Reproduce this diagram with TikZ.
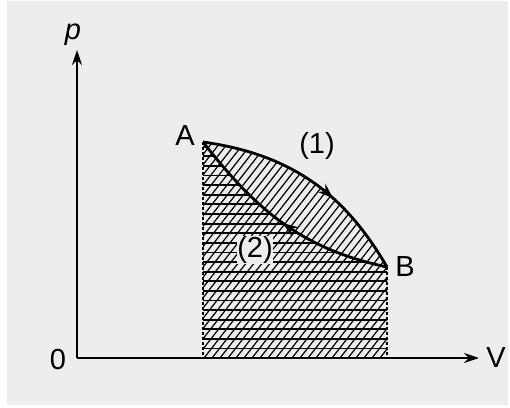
\documentclass[tikz,border=0pt]{standalone}
\usepackage{fontspec}
\setmainfont{Liberation Sans}
\usetikzlibrary{arrows.meta,decorations.markings}
\definecolor{paper}{HTML}{EDEDED}
\begin{document}
\begin{tikzpicture}[x=1pt,y=1pt,>=Stealth,
lbl/.style={font=\fontsize{29}{29}\selectfont,inner sep=1pt},
axis/.style={line width=2.4pt,-{Stealth[length=15pt,width=10pt]}},
proc/.style={line width=2.8pt},
hatch/.style={line width=1.2pt},
rule/.style={line width=1.8pt},
edge/.style={line width=2pt,dash pattern=on 3pt off 2pt},
midarrow/.style={postaction={decorate},decoration={markings,mark=at position #1 with {\arrow{Stealth[length=15pt,width=11pt]}}}}]
\useasboundingbox (0,0) rectangle (510,407);
\fill[white] (0,0) rectangle (510,407);
\fill[paper] (7,2) rectangle (508,406);
\coordinate (O) at (77,49);
\coordinate (xend) at (479,49);
\coordinate (yend) at (77,357);
\coordinate (A) at (203,265);
\coordinate (B) at (387,140);
% work done along (1)
\begin{scope}
\clip (A) to[out=-8,in=120] (B) -- (B |- O) -- (A |- O) -- cycle;
\foreach \x in {0,...,50} \draw[hatch] (20+\x*8,49) -- ++(52:330);
\end{scope}
% work done along (2)
\begin{scope}
\clip (A) to[out=-52,in=168] (B) -- (B |- O) -- (A |- O) -- cycle;
\foreach \k in {1,...,22} \draw[rule] (190,49+\k*9.6) -- (400,49+\k*9.6);
\end{scope}
\draw[edge] (A) -- (A |- O);
\draw[edge] (B) -- (B |- O);
\node[lbl,fill=paper,inner sep=0pt] (two) at (255,157) {(2)};
\draw[proc,midarrow=0.62] (A) to[out=-8,in=120] (B);
\draw[proc,midarrow=0.5] (B) to[out=168,in=-52] (A);
\draw[axis] (O) -- (xend);
\draw[axis] (O) -- (yend);
\node[lbl] (p) at (73,372) {\textit{p}};
\node[lbl] (zero) at (58,47) {0};
\node[lbl] (V) at (496,49) {V};
\node[lbl] (Alab) at (185,271) {A};
\node[lbl] (Blab) at (405,140) {B};
\node[lbl] (one) at (317,261) {(1)};
\end{tikzpicture}
\end{document}
